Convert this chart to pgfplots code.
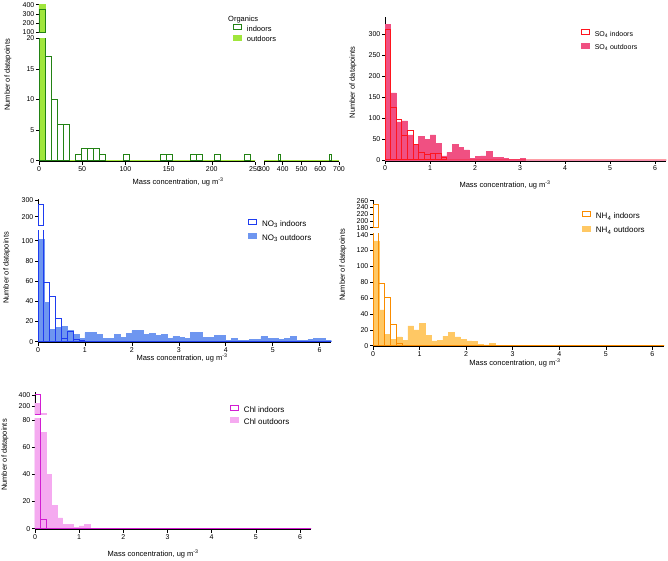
\documentclass[border=0pt]{standalone}
\usepackage{pgfplots}
\pgfplotsset{compat=1.18}
\usepackage{pgfplotstable}
\usepackage{fontspec}
\setmainfont{Liberation Sans}

\definecolor{orgin}{RGB}{34,130,20}
\definecolor{orgout}{RGB}{160,230,60}
\definecolor{so4in}{RGB}{255,20,30}
\definecolor{so4out}{RGB}{240,80,130}
\definecolor{no3in}{RGB}{30,60,240}
\definecolor{no3out}{RGB}{110,150,240}
\definecolor{nh4in}{RGB}{250,140,0}
\definecolor{nh4out}{RGB}{255,200,100}
\definecolor{chlin}{RGB}{210,30,210}
\definecolor{chlout}{RGB}{245,170,240}

\pgfplotsset{
  histax/.style={
    scale only axis, anchor=south west, enlargelimits=false, clip mode=individual,
    axis line style={-, line width=0.6pt, black},
    tick align=outside, major tick length=3pt,
    every tick/.style={black, line width=0.6pt},
    ticklabel style={font=\fontsize{7}{8}\selectfont, inner sep=1.5pt},
    /pgf/number format/assume math mode=true,
    label style={font=\fontsize{7.5}{9}\selectfont},
    ylabel style={anchor=center}, xlabel style={anchor=center},
    legend cell align=left,
  },
  lowerax/.style={axis x line=bottom, axis y line=left, histax},
  upperax/.style={axis x line=none, axis y line=left, xtick=\empty, histax},
  leg/.style={legend style={draw=none, fill=none, inner sep=0pt, outer sep=0pt, anchor=west,
      column sep=5pt, nodes={inner sep=0pt, text height=5.5pt, text depth=1.5pt}, #1}},
  inleg/.style={legend image code/.code={\draw[draw=#1,line width=1pt,fill=white] (0pt,0pt) rectangle (8pt,5pt);}},
  outleg/.style={legend image code/.code={\draw[draw=#1,fill=#1,line width=0.4pt] (0pt,0pt) rectangle (8pt,5pt);}},
  inbar/.style={ybar, bar shift=0pt, fill=none, draw=#1, line width=1pt, forget plot},
  outbar/.style={ybar, bar shift=0pt, fill=#1, draw=#1, line width=0.6pt, forget plot},
}

\pgfplotstableread{
x in out
0.0625 312 323
0.1875 124 160
0.3125 96 91
0.4375 58 93
0.5625 71 60
0.6875 36 35
0.8125 19 57
0.9375 12 49
1.0625 15 60
1.1875 15 40
1.3125 7 10
1.4375 0 18
1.5625 0 38
1.6875 0 30
1.8125 0 24
1.9375 0 4
2.0625 0 9
2.1875 0 10
2.3125 0 21
2.4375 0 7
2.5625 0 6
2.6875 0 3
2.8125 0 1
2.9375 0 1
3.0625 0 4
3.1875 0 0
3.3125 0 0
3.4375 0 0
3.5625 0 0
3.6875 0 0
3.8125 0 0
3.9375 0 0
4.0625 0 0
4.1875 0 0
4.3125 0 0
4.4375 0 0
4.5625 0 0
4.6875 0 0
4.8125 0 0
4.9375 0 0
5.0625 0 0
5.1875 0 0
5.3125 0 0
5.4375 0 0
5.5625 0 0
5.6875 0 0
5.8125 0 0
5.9375 0 0
6.0625 0 0
6.1875 0 0
}\sofour

\pgfplotstableread{
x in out
0.0625 275 101
0.1875 59 39
0.3125 45 12
0.4375 23 14
0.5625 3 15
0.6875 10 11
0.8125 2 7
0.9375 1 3
1.0625 0 9
1.1875 0 9
1.3125 0 7
1.4375 0 3
1.5625 0 3
1.6875 0 7
1.8125 0 4
1.9375 0 8
2.0625 0 11
2.1875 0 11
2.3125 0 7
2.4375 0 8
2.5625 0 6
2.6875 0 7
2.8125 0 3
2.9375 0 5
3.0625 0 4
3.1875 0 3
3.3125 0 9
3.4375 0 9
3.5625 0 4
3.6875 0 4
3.8125 0 6
3.9375 0 6
4.0625 0 1
4.1875 0 3
4.3125 0 1
4.4375 0 1
4.5625 0 2
4.6875 0 2
4.8125 0 5
4.9375 0 3
5.0625 0 3
5.1875 0 2
5.3125 0 3
5.4375 0 5
5.5625 0 1
5.6875 0 1
5.8125 0 2
5.9375 0 3
6.0625 0 3
6.1875 0 1
}\nothree

\pgfplotstableread{
x in out
0.0625 250 132
0.1875 78 45
0.3125 61 14
0.4375 27 8
0.5625 3 11
0.6875 0 7
0.8125 0 25
0.9375 0 20
1.0625 0 28
1.1875 0 13
1.3125 0 6
1.4375 0 7
1.5625 0 12
1.6875 0 17
1.8125 0 11
1.9375 0 8
2.0625 0 6
2.1875 0 5
2.3125 0 2
2.4375 0 1
2.5625 0 3
2.6875 0 0
2.8125 0 0
2.9375 0 0
3.0625 0 0
3.1875 0 0
3.3125 0 0
3.4375 0 0
3.5625 0 0
3.6875 0 0
3.8125 0 0
3.9375 0 0
4.0625 0 0
4.1875 0 0
4.3125 0 0
4.4375 0 0
4.5625 0 0
4.6875 0 0
4.8125 0 0
4.9375 0 0
5.0625 0 0
5.1875 0 0
5.3125 0 0
5.4375 0 0
5.5625 0 0
5.6875 0 0
5.8125 0 0
5.9375 0 0
6.0625 0 0
6.1875 0 0
}\nhfour

\pgfplotstableread{
x in out
0.0625 410 250
0.1875 7 71
0.3125 0 40
0.4375 0 17
0.5625 0 8
0.6875 0 3
0.8125 0 3
0.9375 0 1
1.0625 0 2
1.1875 0 3
1.3125 0 0
1.4375 0 0
1.5625 0 0
1.6875 0 0
1.8125 0 0
1.9375 0 0
2.0625 0 0
2.1875 0 0
2.3125 0 0
2.4375 0 0
2.5625 0 0
2.6875 0 0
2.8125 0 0
2.9375 0 0
3.0625 0 0
3.1875 0 0
3.3125 0 0
3.4375 0 0
3.5625 0 0
3.6875 0 0
3.8125 0 0
3.9375 0 0
4.0625 0 0
4.1875 0 0
4.3125 0 0
4.4375 0 0
4.5625 0 0
4.6875 0 0
4.8125 0 0
4.9375 0 0
5.0625 0 0
5.1875 0 0
5.3125 0 0
5.4375 0 0
5.5625 0 0
5.6875 0 0
5.8125 0 0
5.9375 0 0
6.0625 0 0
6.1875 0 0
}\chl

\pgfplotstableread{
x in
3.5 350
10.5 17
17.5 10
24.5 6
31.5 6
45.5 1
52.5 2
59.5 2
66.5 2
73.5 1
101.5 1
143.5 1
150.5 1
178.5 1
185.5 1
206.5 1
241.5 1
381.5 1
654.5 1
}\orgin

\begin{document}
\begin{tikzpicture}
\useasboundingbox (0,0) rectangle (668pt,-560pt);

% ---------------- Organics ----------------
\begin{axis}[lowerax, at={(39pt,-161.7pt)}, width=216pt, height=123.4pt,
  xmin=0, xmax=250, ymin=-0.16, ymax=20,
  xtick={0,50,...,250}, ytick={0,5,...,20},
  ylabel={Number of datapoints},
  xlabel={Mass concentration, ug m\textsuperscript{-3}},
  ylabel style={at={(rel axis cs:-0.1435,0.703)}},
  xlabel style={at={(rel axis cs:0.644,-0.165)}},
  leg={at={(rel axis cs:0.898,1.039)}, row sep=2pt, font=\fontsize{7.5}{9}\selectfont}]
\addplot[outbar=orgout, bar width=7, line width=1pt] coordinates {(3.5,405)};
\addplot[orgout, line width=1.3pt, forget plot] coordinates {(7,0) (700,0)};
\addplot[inbar=orgin, bar width=7, line width=0.8pt] table[x=x,y=in] {\orgin};
\addlegendimage{inleg=orgin}\addlegendentry{indoors}
\addlegendimage{outleg=orgout}\addlegendentry{outdoors}
\node[anchor=west, font=\fontsize{7.5}{9}\selectfont, inner sep=0pt] at (rel axis cs:0.875,1.148) {Organics};
\end{axis}
\begin{axis}[upperax, at={(39pt,-32.3pt)}, width=216pt, height=27.6pt,
  xmin=0, xmax=250, ymin=100, ymax=400, ytick={100,200,300,400},
  restrict y to domain=100:1000]
\addplot[outbar=orgout, bar width=7, line width=1pt] coordinates {(3.5,405)};
\addplot[inbar=orgin, bar width=7, line width=0.8pt] table[x=x,y=in] {\orgin};
\end{axis}
\begin{axis}[lowerax, axis y line=none, ytick=\empty, at={(264pt,-161.7pt)}, width=75pt, height=123.4pt,
  xmin=300, xmax=700, ymin=-0.16, ymax=20, xtick={300,400,...,700}]
\addplot[orgout, line width=1.3pt, forget plot] coordinates {(7,0) (700,0)};
\addplot[inbar=orgin, bar width=7, line width=0.8pt] table[x=x,y=in] {\orgin};
\end{axis}

% ---------------- SO4 ----------------
\begin{axis}[lowerax, at={(385pt,-161pt)}, width=281.25pt, height=143.7pt,
  xmin=0, xmax=6.25, ymin=-2.4, ymax=340,
  xtick={0,1,...,6}, ytick={0,50,...,300},
  ylabel={Number of datapoints},
  xlabel={Mass concentration, ug m\textsuperscript{-3}},
  ylabel style={at={(rel axis cs:-0.114,0.546)}},
  xlabel style={at={(rel axis cs:0.427,-0.165)}},
  leg={at={(rel axis cs:0.696,0.842)}, row sep=5pt, font=\fontsize{7}{8}\selectfont}]
\addplot[outbar=so4out, bar width=0.125] table[x=x,y=out] {\sofour};
\addplot[inbar=so4in, bar width=0.125] table[x=x,y=in] {\sofour};
\addlegendimage{inleg=so4in}\addlegendentry{SO\textsubscript{4} indoors}
\addlegendimage{outleg=so4out}\addlegendentry{SO\textsubscript{4} outdoors}
\end{axis}

% ---------------- NO3 ----------------
\begin{axis}[lowerax, at={(38pt,-342.7pt)}, width=293.4pt, height=112pt,
  xmin=0, xmax=6.25, ymin=-1, ymax=110,
  xtick={0,1,...,6}, ytick={0,20,...,100},
  ylabel={Number of datapoints},
  xlabel={Mass concentration, ug m\textsuperscript{-3}},
  ylabel style={at={(rel axis cs:-0.107,0.667)}},
  xlabel style={at={(rel axis cs:0.491,-0.135)}},
  leg={at={(rel axis cs:0.716,1.004)}, row sep=5.7pt, font=\fontsize{8}{9}\selectfont}]
\addplot[outbar=no3out, bar width=0.125] table[x=x,y=out] {\nothree};
\addplot[inbar=no3in, bar width=0.125] table[x=x,y=in] {\nothree};
\addlegendimage{inleg=no3in}\addlegendentry{NO\textsubscript{3} indoors}
\addlegendimage{outleg=no3out}\addlegendentry{NO\textsubscript{3} outdoors}
\end{axis}
\begin{axis}[upperax, at={(38pt,-225pt)}, width=293.4pt, height=26pt,
  xmin=0, xmax=6.25, ymin=150, ymax=305.5, ytick={200,300},
  restrict y to domain=150:1000]
\addplot[outbar=no3out, bar width=0.125] table[x=x,y=out] {\nothree};
\addplot[inbar=no3in, bar width=0.125] table[x=x,y=in] {\nothree};
\end{axis}

% ---------------- NH4 ----------------
\begin{axis}[lowerax, at={(373pt,-346.7pt)}, width=291pt, height=113.7pt,
  xmin=0, xmax=6.25, ymin=-1.25, ymax=142,
  xtick={0,1,...,6}, ytick={0,20,...,140},
  ylabel={Number of datapoints},
  xlabel={Mass concentration, ug m\textsuperscript{-3}},
  ylabel style={at={(rel axis cs:-0.103,0.719)}},
  xlabel style={at={(rel axis cs:0.488,-0.14)}},
  leg={at={(rel axis cs:0.718,1.09)}, row sep=5.3pt, font=\fontsize{8}{9}\selectfont}]
\addplot[outbar=nh4out, bar width=0.125] table[x=x,y=out] {\nhfour};
\addplot[inbar=nh4in, bar width=0.125] table[x=x,y=in] {\nhfour};
\addlegendimage{inleg=nh4in}\addlegendentry{NH\textsubscript{4} indoors}
\addlegendimage{outleg=nh4out}\addlegendentry{NH\textsubscript{4} outdoors}
\end{axis}
\begin{axis}[upperax, at={(373pt,-227.7pt)}, width=291pt, height=27.7pt,
  xmin=0, xmax=6.25, ymin=180, ymax=262, ytick={180,200,...,260},
  restrict y to domain=180:1000]
\addplot[outbar=nh4out, bar width=0.125] table[x=x,y=out] {\nhfour};
\addplot[inbar=nh4in, bar width=0.125] table[x=x,y=in] {\nhfour};
\end{axis}

% ---------------- Chl ----------------
\begin{axis}[lowerax, at={(35pt,-529.7pt)}, width=276pt, height=111.1pt,
  xmin=0, xmax=6.25, ymin=-0.75, ymax=81,
  xtick={0,1,...,6}, ytick={0,20,...,80},
  ylabel={Number of datapoints},
  xlabel={Mass concentration, ug m\textsuperscript{-3}},
  ylabel style={at={(rel axis cs:-0.109,0.672)}},
  xlabel style={at={(rel axis cs:0.428,-0.219)}},
  leg={at={(rel axis cs:0.7065,1.026)}, row sep=3pt, font=\fontsize{8}{9}\selectfont}]
\addplot[outbar=chlout, bar width=0.125] table[x=x,y=out] {\chl};
\addplot[inbar=chlin, bar width=0.125] table[x=x,y=in] {\chl};
\addlegendimage{inleg=chlin}\addlegendentry{Chl indoors}
\addlegendimage{outleg=chlout}\addlegendentry{Chl outdoors}
\end{axis}
\begin{axis}[upperax, at={(35pt,-414.3pt)}, width=276pt, height=22pt,
  xmin=0, xmax=6.25, ymin=55, ymax=445, ytick={200,400},
  restrict y to domain=55:1000]
\addplot[outbar=chlout, bar width=0.125] table[x=x,y=out] {\chl};
\addplot[inbar=chlin, bar width=0.125] table[x=x,y=in] {\chl};
\end{axis}
\end{tikzpicture}
\end{document}
